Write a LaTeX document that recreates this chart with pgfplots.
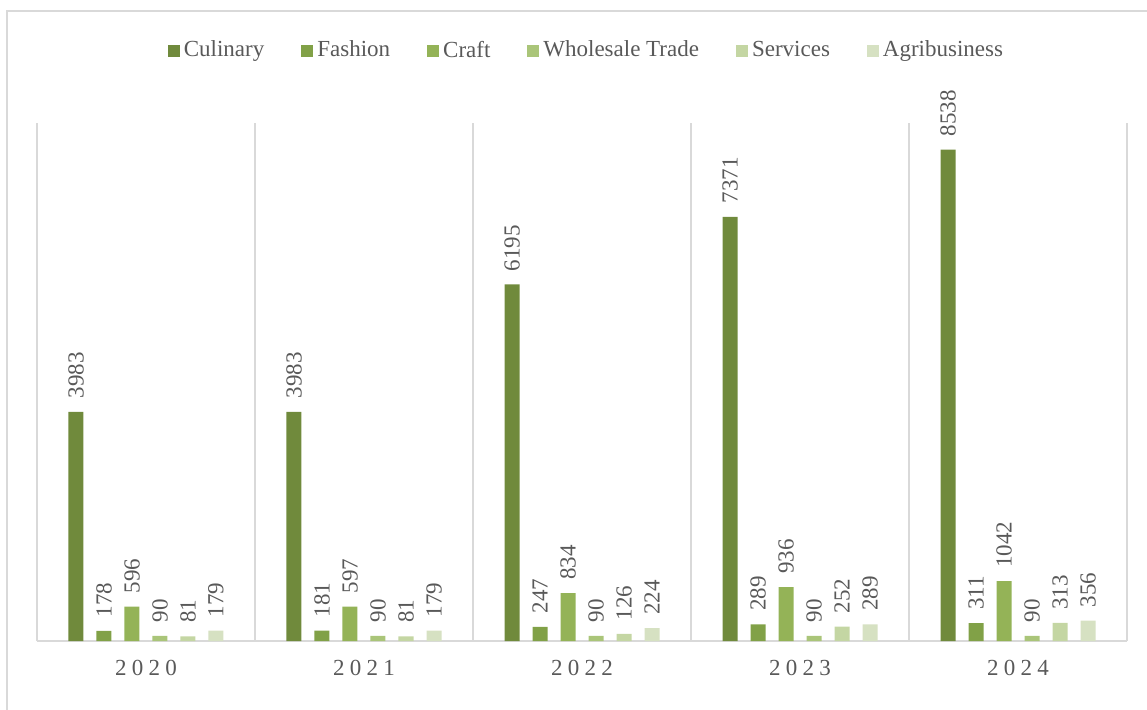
\documentclass[border=0pt]{standalone}
\usepackage{pgfplots}
\pgfplotsset{compat=1.18}
\usepackage{fontspec}
\setmainfont{Liberation Serif}
\definecolor{c1}{RGB}{112,138,60}
\definecolor{c2}{RGB}{129,161,71}
\definecolor{c3}{RGB}{148,179,87}
\definecolor{c4}{RGB}{170,197,121}
\definecolor{c5}{RGB}{196,214,163}
\definecolor{c6}{RGB}{214,225,194}
\definecolor{txt}{RGB}{89,89,89}
\definecolor{gridc}{RGB}{217,217,217}
\newcommand{\yr}[4]{#1\hspace{2.6pt}#2\hspace{2.6pt}#3\hspace{2.6pt}#4}
\begin{document}
\begin{tikzpicture}[x=1pt,y=1pt]
\useasboundingbox (-18.5,-34) rectangle (555,320.5);
\draw[gridc, line width=0.8pt] (-15,-40) -- (-15,315) -- (560,315);
\begin{axis}[
  at={(0,0)}, anchor=south west,
  scale only axis,
  width=545pt, height=259pt,
  xmin=-0.5, xmax=4.5, ymin=0, ymax=9000,
  axis x line*=bottom, axis y line=none,
  axis line style={gridc, line width=0.8pt},
  xtick={0,1,2,3,4},
  xticklabels={\yr2020,\yr2021,\yr2022,\yr2023,\yr2024},
  minor xtick={-0.5,0.5,1.5,2.5,3.5,4.5},
  xminorgrids=true,
  minor grid style={gridc, line width=0.8pt},
  major tick length=0pt, minor tick length=0pt,
  xticklabel style={font=\fontsize{11.5}{12}\selectfont, text=txt, yshift=-6pt},
  /pgf/number format/1000 sep={},
  /pgf/number format/assume math mode=true,
  ybar, bar width=7.5pt,
  every axis plot/.append style={draw=none},
  nodes near coords,
  every node near coord/.append style={rotate=90, anchor=west, font=\fontsize{11.5}{12}\selectfont, text=txt, inner xsep=6.5pt, inner ysep=0pt},
  legend columns=6,
  legend style={at={(0.505,1.14)}, anchor=center, draw=none, fill=none,
    font=\fontsize{11.5}{12}\selectfont, text=txt,
    /tikz/every even column/.append style={column sep=16.5pt}},
  legend image code/.code={\fill[#1] (0pt,-3pt) rectangle (6pt,3pt);},
]
\addplot[fill=c1, bar shift=-35pt] coordinates {(0,3983) (1,3983) (2,6195) (3,7371) (4,8538)};
\addplot[fill=c2, bar shift=-21pt] coordinates {(0,178) (1,181) (2,247) (3,289) (4,311)};
\addplot[fill=c3, bar shift=-7pt] coordinates {(0,596) (1,597) (2,834) (3,936) (4,1042)};
\addplot[fill=c4, bar shift=7pt] coordinates {(0,90) (1,90) (2,90) (3,90) (4,90)};
\addplot[fill=c5, bar shift=21pt] coordinates {(0,81) (1,81) (2,126) (3,252) (4,313)};
\addplot[fill=c6, bar shift=35pt] coordinates {(0,179) (1,179) (2,224) (3,289) (4,356)};
\legend{Culinary, Fashion, Craft, Wholesale Trade, Services, Agribusiness}
\end{axis}
\end{tikzpicture}
\end{document}
